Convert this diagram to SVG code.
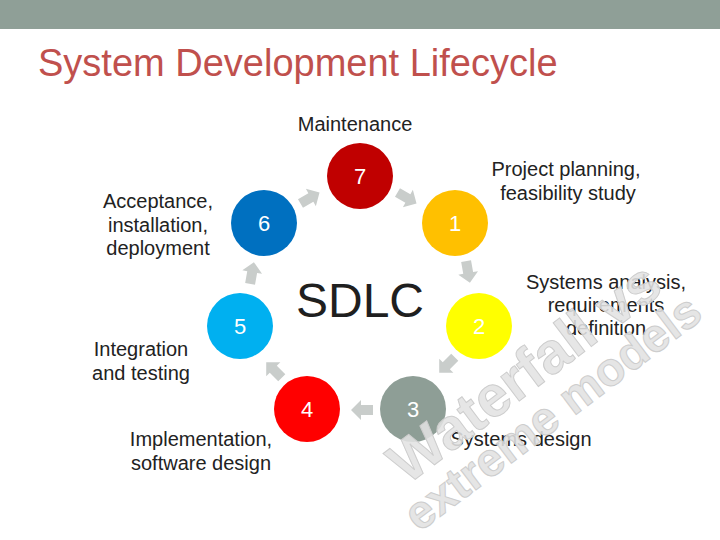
<svg xmlns="http://www.w3.org/2000/svg" width="720" height="540" viewBox="0 0 720 540">
<defs>
<style>
.lbl{font-family:"Liberation Sans",Arial,sans-serif;font-size:20px;fill:#222;text-anchor:middle}
.num{font-family:"Liberation Sans",Arial,sans-serif;font-size:22px;fill:#fff;text-anchor:middle}
.wm{font-family:"Liberation Sans",Arial,sans-serif;font-weight:bold;fill:#e2e2e2;fill-opacity:0.88;stroke:#cdcdcd;stroke-width:1;text-anchor:middle}
.arr{fill:#c9cdcb}
</style>
<path id="ba" d="M-11,-5 L1,-5 L1,-10 L11,0 L1,10 L1,5 L-11,5 Z"/>
</defs>
<rect x="0" y="0" width="720" height="540" fill="#fff"/>
<rect x="0" y="0" width="720" height="29" fill="#8f9f97"/>
<text x="38" y="76" font-family="Liberation Sans,Arial,sans-serif" font-size="38" fill="#c0504d">System Development Lifecycle</text>

<g id="connectors" class="arr">
<use href="#ba" transform="translate(310,198) rotate(-30)"/>
<use href="#ba" transform="translate(407,198) rotate(30)"/>
<use href="#ba" transform="translate(468,272) rotate(80)"/>
<use href="#ba" transform="translate(447,365) rotate(135)"/>
<use href="#ba" transform="translate(362,410) rotate(180)"/>
<use href="#ba" transform="translate(274,370) rotate(225)"/>
<use href="#ba" transform="translate(252,273) rotate(-80)"/>
</g>

<g id="center"><text x="360" y="317" font-family="Liberation Sans,Arial,sans-serif" font-size="48" fill="#1f1f1f" text-anchor="middle">SDLC</text></g>

<g id="n7"><circle cx="360" cy="176" r="33" fill="#c00000"/><text class="num" x="360" y="184">7</text>
<text class="lbl" x="355" y="131">Maintenance</text></g>
<g id="n1"><circle cx="455" cy="223" r="33" fill="#ffc000"/><text class="num" x="455" y="231">1</text>
<text class="lbl" x="566" y="176">Project planning,</text><text class="lbl" x="568" y="200">feasibility study</text></g>
<g id="n2"><circle cx="479" cy="326" r="33" fill="#ffff00"/><text class="num" x="479" y="334">2</text>
<text class="lbl" x="606" y="289">Systems analysis,</text><text class="lbl" x="606" y="312">requirements</text><text class="lbl" x="606" y="335">definition</text></g>
<g id="n3"><circle cx="413" cy="409" r="33" fill="#8e9e96"/><text class="num" x="413" y="417">3</text>
<text class="lbl" x="521" y="446">Systems design</text></g>
<g id="n4"><circle cx="307" cy="409" r="33" fill="#ff0000"/><text class="num" x="307" y="417">4</text>
<text class="lbl" x="201" y="446">Implementation,</text><text class="lbl" x="201" y="470">software design</text></g>
<g id="n5"><circle cx="240" cy="326" r="33" fill="#00b0f0"/><text class="num" x="240" y="334">5</text>
<text class="lbl" x="141" y="356">Integration</text><text class="lbl" x="141" y="380">and testing</text></g>
<g id="n6"><circle cx="264" cy="223" r="33" fill="#0070c0"/><text class="num" x="264" y="231">6</text>
<text class="lbl" x="158" y="208">Acceptance,</text><text class="lbl" x="158" y="232">installation,</text><text class="lbl" x="158" y="255">deployment</text></g>

<g id="watermark">
<text class="wm" font-size="58" transform="translate(524,372) rotate(-37)" dy="0.35em">Waterfall vs</text>
<text class="wm" font-size="47" transform="translate(552,412) rotate(-37)" dy="0.35em">extreme models</text>
</g>
</svg>
